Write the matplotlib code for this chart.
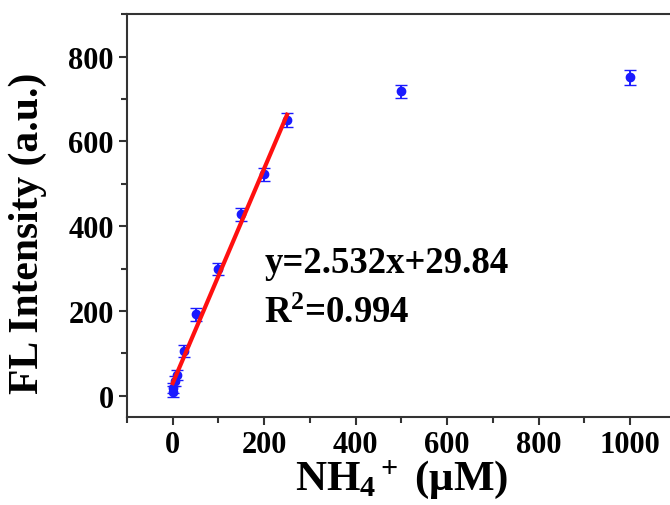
import matplotlib
matplotlib.use("Agg")
import matplotlib.pyplot as plt
from matplotlib.ticker import MultipleLocator, AutoMinorLocator
import numpy as np

plt.rcParams['font.family'] = ['Liberation Serif', 'DejaVu Serif']
plt.rcParams['font.weight'] = 'bold'
plt.rcParams['mathtext.fontset'] = 'custom'
plt.rcParams['mathtext.rm'] = 'Liberation Serif:bold'
plt.rcParams['mathtext.it'] = 'Liberation Serif:italic:bold'
plt.rcParams['mathtext.bf'] = 'Liberation Serif:bold'

# NH4+ concentration (uM) and fluorescence intensity
conc = [0, 1, 5, 10, 25, 50, 100, 150, 200, 250, 500, 1000]
intensity = [10, 18, 35, 48, 105, 192, 300, 428, 522, 651, 718, 751]
err = [12, 12, 12, 12, 14, 15, 14, 16, 15, 17, 15, 18]

# linear fit over the low-concentration range
slope = 2.532
intercept = 29.84
fit_x = [0, 250]
equation = "y=2.532x+29.84"
r2_text = "R$^2$=0.994"

fig = plt.figure(figsize=(6.7, 5.06), dpi=100)
ax = fig.add_axes([0.1896, 0.174, 0.819, 0.796])

ax.errorbar(conc, intensity, yerr=err, fmt='o', color='#1a1aff',
            ecolor='#1a1aff', markersize=6, capsize=4, capthick=1.6,
            elinewidth=1.4, markeredgewidth=1.0, zorder=3)

fx = np.array(fit_x, dtype=float)
ax.plot(fx, slope * fx + intercept, color='#ff1010', lw=3, zorder=4)

ax.text(200, 293, equation, fontsize=26.5, fontweight='bold', ha='left', va='baseline')
ax.text(200, 175, r2_text, fontsize=26.5, fontweight='bold', ha='left', va='baseline')

ax.set_xlim(-100, 1100)
ax.set_ylim(-50, 900)
ax.xaxis.set_major_locator(MultipleLocator(200))
ax.xaxis.set_minor_locator(AutoMinorLocator(2))
ax.yaxis.set_major_locator(MultipleLocator(200))
ax.yaxis.set_minor_locator(AutoMinorLocator(2))

ax.tick_params(which='major', direction='out', length=6, width=1.5,
               labelsize=22, color='#333333')
ax.tick_params(which='minor', direction='out', length=4, width=1.5, color='#333333')
for lab in ax.get_xticklabels() + ax.get_yticklabels():
    lab.set_fontweight('bold')
for s in ax.spines.values():
    s.set_linewidth(1.5)
    s.set_color('#333333')

ax.set_xlabel('NH$_4$$^+$ (μM)', fontsize=31, fontweight='bold', labelpad=-1)
ax.set_ylabel('FL Intensity (a.u.)', fontsize=30, fontweight='bold')
ax.yaxis.set_label_coords(-0.145, 0.459)

fig.savefig('out.png', dpi=100)
